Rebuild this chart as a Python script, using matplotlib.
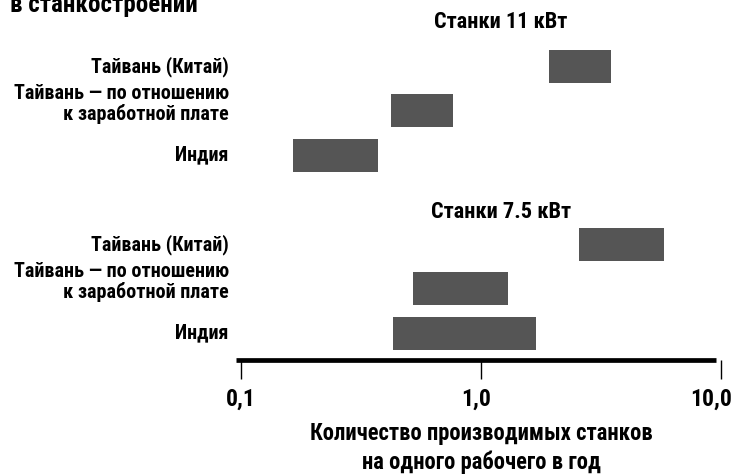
import matplotlib
matplotlib.use("Agg")
import matplotlib.pyplot as plt
import matplotlib.transforms as mtransforms

plt.rcParams['font.family'] = ['Roboto Condensed', 'PT Sans Narrow', 'DejaVu Sans']
plt.rcParams['font.weight'] = 'bold'

# Productivity ranges (machines per worker per year)
groups = ["Станки 11 кВт", "Станки 7.5 кВт"]
labels = ["Тайвань (Китай)", "Тайвань — по отношению\nк заработной плате", "Индия"]
low_11kw = [1.91, 0.421, 0.164]
high_11kw = [3.47, 0.762, 0.371]
low_75kw = [2.55, 0.519, 0.428]
high_75kw = [5.77, 1.29, 1.69]
tick_values = [0.1, 1.0, 10.0]
tick_labels = ["0,1", "1,0", "10,0"]

W, H = 734, 475
fig = plt.figure(figsize=(W / 100, H / 100), dpi=100)
ax = fig.add_axes([241.3 / W, (H - 360) / H, (721 - 241.3) / W, 360 / H])
ax.set_xscale('log')
ax.set_xlim(0.1, 10)
ax.set_ylim(0.4, 0.4 + 360 / 44.5)

bar_color = "#555555"
rows_top = [7, 6, 5]
rows_bottom = [3, 2, 1]
label_tf = mtransforms.blended_transform_factory(ax.transAxes, ax.transData)
for rows, lo, hi in ((rows_top, low_11kw, high_11kw), (rows_bottom, low_75kw, high_75kw)):
    for y, a, b, lab in zip(rows, lo, hi, labels):
        ax.barh(y, b - a, left=a, height=0.735, color=bar_color, edgecolor='none')
        dy = 0.15 if "\n" in lab else 0
        ax.text(-0.026, y + dy, lab, transform=label_tf,
                ha='right', va='center', fontsize=14.5, fontweight='bold', linespacing=1.05)

# Group headings sit a little right of the 1.0 tick
ax.text(1.21, 8.0, groups[0], ha='center', va='center', fontsize=16, fontweight='bold')
ax.text(1.21, 3.73, groups[1], ha='center', va='center', fontsize=16, fontweight='bold')

for s in ('top', 'right', 'left', 'bottom'):
    ax.spines[s].set_visible(False)
ax.set_yticks([])
ax.set_xticks(tick_values)
ax.set_xticklabels(tick_labels, fontsize=17, fontweight='bold')
ax.minorticks_off()
ax.tick_params(axis='x', length=14, width=1.0, pad=6, color='black')

# Nudge the tick labels left, as in the printed layout
for lbl, dx in zip(ax.get_xticklabels(), (0, -5, -10)):
    lbl.set_transform(lbl.get_transform() + mtransforms.ScaledTranslation(dx / 100, 0, fig.dpi_scale_trans))

# Heavy baseline, slightly offset from the tick positions
blend = mtransforms.blended_transform_factory(ax.transData, ax.transAxes)
ax.plot([0.0950, 9.51], [0, 0], transform=blend, color='black', lw=3.4,
        solid_capstyle='butt', clip_on=False)

ax.set_xlabel("Количество производимых станков\nна одного рабочего в год",
              fontsize=16.3, fontweight='bold', labelpad=8, linespacing=1.28)

fig.text(10 / W, (H - 12) / H, "в станкостроении", ha='left', va='baseline',
         fontsize=18, fontweight='bold')

fig.savefig("out.png", dpi=100, facecolor='white')
